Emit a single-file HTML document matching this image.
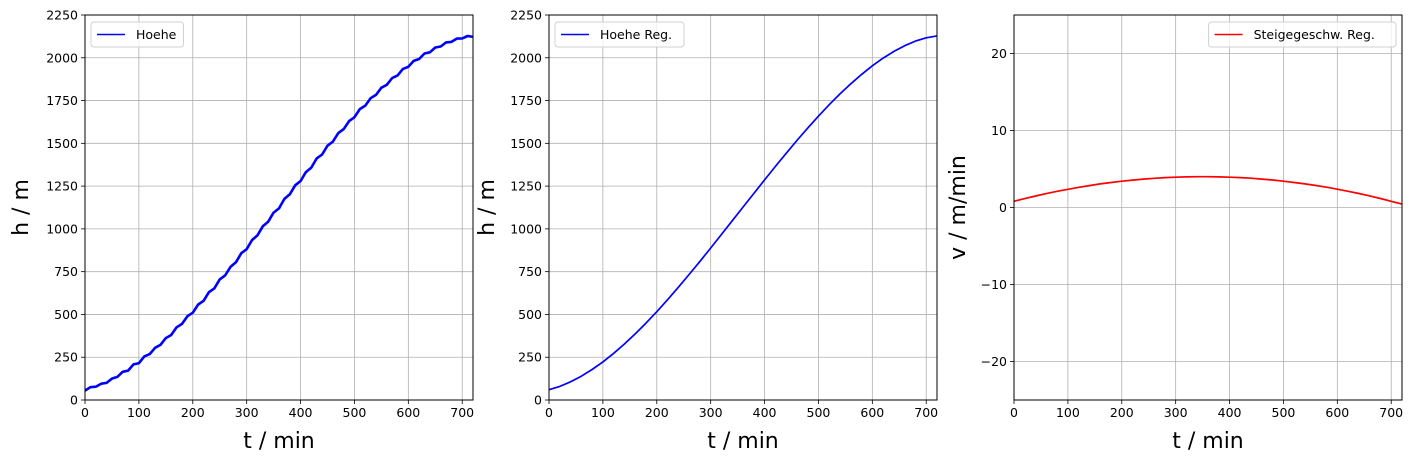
<!DOCTYPE html>
<html><head><meta charset="utf-8"><style>
body{margin:0;background:#fff;}
svg{display:block;font-family:"DejaVu Sans","Liberation Sans",sans-serif;}
</style></head><body>
<svg id="fig" width="1414" height="463" viewBox="0 0 1414 463" xmlns="http://www.w3.org/2000/svg"></svg>
<script>
const timeRaw=[0,10,20,30,40,50,60,70,80,90,100,110,120,130,140,150,160,170,180,190,200,210,220,230,240,250,260,270,280,290,300,310,320,330,340,350,360,370,380,390,400,410,420,430,440,450,460,470,480,490,500,510,520,530,540,550,560,570,580,590,600,610,620,630,640,650,660,670,680,690,700,710,720];
const heightRaw=[55,75,78,95,100,125,135,165,172,208,215,255,268,305,322,362,380,425,445,490,510,558,580,630,652,705,728,778,805,858,882,935,962,1015,1042,1095,1120,1175,1202,1255,1280,1332,1358,1412,1435,1486,1510,1560,1583,1630,1652,1700,1720,1764,1783,1825,1842,1882,1897,1935,1947,1982,1993,2025,2032,2060,2066,2090,2093,2112,2113,2127,2122];
const timeReg=[0,20,40,60,80,100,120,140,160,180,200,220,240,260,280,300,320,340,360,380,400,420,440,460,480,500,520,540,560,580,600,620,640,660,680,700,720];
const heightReg=[60,79.6,106.1,139,178.1,222.8,272.7,327.3,386.5,449.6,516.2,586,658.5,733.3,810,888.2,967.4,1047.3,1127.3,1207.1,1286.4,1364.6,1441.4,1516.3,1588.9,1658.8,1725.5,1788.7,1847.9,1902.8,1953,1998,2037.4,2070.6,2097.2,2117,2128];
const velReg=[0.8,1.155,1.49,1.8,2.1,2.37,2.62,2.85,3.06,3.25,3.41,3.56,3.69,3.79,3.88,3.94,3.98,4.0,4.0,3.98,3.94,3.88,3.8,3.69,3.57,3.42,3.25,3.07,2.86,2.63,2.38,2.11,1.82,1.5,1.17,0.81,0.44];
const xTicks=[0,100,200,300,400,500,600,700];
const hTicks=[0,250,500,750,1000,1250,1500,1750,2000,2250];
const vTicks=[-20,-10,0,10,20];

const NS="http://www.w3.org/2000/svg";
const svg=document.getElementById('fig');
function mk(tag,attrs,parent){const e=document.createElementNS(NS,tag);for(const k in attrs)e.setAttribute(k,attrs[k]);(parent||svg).appendChild(e);return e;}

function panel(left,ymin,ymax,yTicks,ylabel,ylabX,xs,ys,color,sw,legend,legendRight,name){
  const top=15,bottom=400,right=left+388;
  const g=mk('g',{});
  
  
  const X=v=>left+(v/720)*(right-left);
  const Y=v=>bottom-(v-ymin)/(ymax-ymin)*(bottom-top);
  xTicks.forEach(t=>{
    const l=mk('line',{x1:X(t),x2:X(t),y1:top,y2:bottom,stroke:'#b0b0b0','stroke-width':0.8},g);
    
    mk('line',{x1:X(t),x2:X(t),y1:bottom,y2:bottom+4,stroke:'#000','stroke-width':0.8},g);
    const tx=mk('text',{x:X(t),y:bottom+17,'text-anchor':'middle','font-size':12.5,fill:'#000'},g);
    tx.textContent=t;
  });
  yTicks.forEach(t=>{
    const l=mk('line',{x1:left,x2:right,y1:Y(t),y2:Y(t),stroke:'#b0b0b0','stroke-width':0.8},g);
    
    mk('line',{x1:left-4,x2:left,y1:Y(t),y2:Y(t),stroke:'#000','stroke-width':0.8},g);
    const tx=mk('text',{x:left-7,y:Y(t)+4.5,'text-anchor':'end','font-size':12.5,fill:'#000'},g);
    tx.textContent=(t<0?'\u2212'+(-t):t);
  });
  const pts=xs.map((t,i)=>X(t).toFixed(1)+','+Y(ys[i]).toFixed(1)).join(' ');
  const pl=mk('polyline',{points:pts,fill:'none',stroke:color,'stroke-width':sw,'stroke-linejoin':'round'},g);
  
  const fr=mk('rect',{x:left,y:top,width:right-left,height:bottom-top,fill:'none',stroke:'#000','stroke-width':1},g);
  
  const xl=mk('text',{x:(left+right)/2,y:448,'text-anchor':'middle','font-size':22,fill:'#000'},g);
  xl.textContent='t / min';
  const yl=mk('text',{x:0,y:0,'text-anchor':'middle','font-size':22,fill:'#000',transform:`translate(${ylabX},${(top+bottom)/2}) rotate(-90)`},g);
  yl.textContent=ylabel;
  const lw=legend.length*7.3+56;
  const lx=legendRight?right-6-lw:left+6;
  const lg=mk('g',{},g);
  
  mk('rect',{x:lx,y:22,width:lw,height:25,rx:3,fill:'#fff','fill-opacity':0.8,stroke:'#d0d0d0','stroke-width':1},lg);
  mk('line',{x1:lx+6,x2:lx+34,y1:34.5,y2:34.5,stroke:color,'stroke-width':1.6},lg);
  const lt=mk('text',{x:lx+45,y:39,'font-size':12.5,fill:'#000'},lg);
  lt.textContent=legend;
}
panel(85,0,2250,hTicks,'h / m',28,timeRaw,heightRaw,'#0000ff',2.6,'Hoehe',false,'height-raw-panel');
panel(549,0,2250,hTicks,'h / m',494,timeReg,heightReg,'#0000ff',1.7,'Hoehe Reg.',false,'height-reg-panel');
panel(1014,-25,25,vTicks,'v / m/min',965,timeReg,velReg,'#ff0000',1.7,'Steigegeschw. Reg.',true,'velocity-reg-panel');
</script>
</body></html>
